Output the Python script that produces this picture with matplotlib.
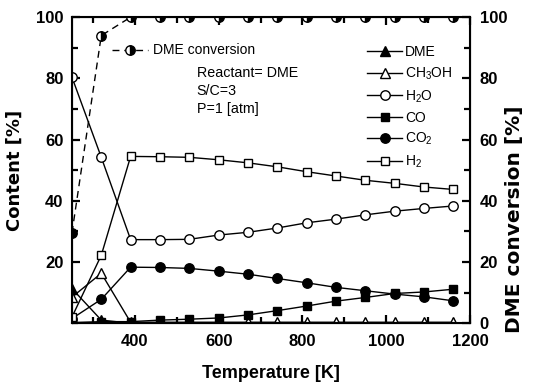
import matplotlib.pyplot as plt
from matplotlib.ticker import MultipleLocator

plt.rcParams['font.family'] = ['Liberation Sans', 'DejaVu Sans']
plt.rcParams['mathtext.fontset'] = 'custom'
plt.rcParams['mathtext.rm'] = 'Liberation Sans'
plt.rcParams['mathtext.it'] = 'Liberation Sans:italic'
plt.rcParams['mathtext.bf'] = 'Liberation Sans:bold'

temp = [250 + 70 * i for i in range(14)]

dme = [11.3, 1.0, 0, 0, 0, 0, 0, 0, 0, 0, 0, 0, 0, 0]
ch3oh = [8.5, 16.3, 0.3, 0.3, 0.3, 0.3, 0.3, 0.3, 0.3, 0.3, 0.3, 0.3, 0.3, 0.3]
h2o = [80.4, 54.2, 27.3, 27.3, 27.4, 28.8, 29.7, 31.1, 32.8, 34.0, 35.4, 36.6, 37.5, 38.3]
co = [0.2, 0.5, 0.5, 1.0, 1.3, 1.7, 2.7, 4.1, 5.6, 7.2, 8.4, 9.7, 10.2, 11.1]
co2 = [1.5, 7.8, 18.3, 18.2, 17.9, 17.0, 16.0, 14.6, 13.2, 11.7, 10.6, 9.5, 8.6, 7.3]
h2 = [2.0, 22.2, 54.5, 54.4, 54.2, 53.4, 52.4, 51.1, 49.5, 48.1, 46.7, 45.7, 44.5, 43.7]
conversion = [29.5, 94, 100, 100, 100, 100, 100, 100, 100, 100, 100, 100, 100, 100]

fig = plt.figure(figsize=(5.33, 3.82), dpi=100)
ax = fig.add_axes([0.135, 0.154, 0.747, 0.801])

ms = 6.8
lw = 1.0
ax.plot(temp, dme, 'k-', marker='^', ms=ms, lw=lw, label='DME')
ax.plot(temp, ch3oh, 'k-', marker='^', ms=ms, lw=lw, mfc='white', label='CH$_3$OH')
ax.plot(temp, h2o, 'k-', marker='o', ms=ms, lw=lw, mfc='white', label='H$_2$O')
ax.plot(temp, co, 'k-', marker='s', ms=ms - 0.7, lw=lw, label='CO')
ax.plot(temp, co2, 'k-', marker='o', ms=ms, lw=lw, label='CO$_2$')
ax.plot(temp, h2, 'k-', marker='s', ms=ms - 0.7, lw=lw, mfc='white', label='H$_2$')

ax.set_xlim(250, 1200)
ax.set_ylim(0, 100)
ax.xaxis.set_major_locator(MultipleLocator(200))
ax.xaxis.set_minor_locator(MultipleLocator(100))
ax.yaxis.set_minor_locator(MultipleLocator(10))
ax.set_yticks([20, 40, 60, 80, 100])
ax.tick_params(which='both', direction='in', top=True, right=False, width=1.6)
ax.tick_params(which='major', length=6, labelsize=12)
ax.tick_params(which='minor', length=4)
ax.tick_params(axis='x', pad=8)
ax.tick_params(axis='y', pad=6)
for lbl in ax.get_xticklabels() + ax.get_yticklabels():
    lbl.set_fontweight('bold')
for s in ax.spines.values():
    s.set_linewidth(1.5)

ax.set_xlabel('Temperature [K]', fontsize=13, fontweight='bold', labelpad=11)
ax.set_ylabel('Content [%]', fontsize=13, fontweight='bold', family='DejaVu Sans')
ax.yaxis.set_label_coords(-0.122, 0.5)

ax.legend(loc='upper right', bbox_to_anchor=(0.98, 0.94), frameon=False,
          fontsize=10, handlelength=2.5, handletextpad=0.2,
          labelspacing=0.45, borderpad=0.2)

ax.text(0.313, 0.84, 'Reactant= DME\nS/C=3\nP=1 [atm]', transform=ax.transAxes,
        fontsize=10.3, va='top', ha='left', linespacing=1.35)

ax2 = ax.twinx()
ax2.plot(temp, conversion, color='k', ls=(0, (5, 3.5)), lw=lw, marker='o', ms=ms,
         fillstyle='right', mfc='black', mfcalt='white', mec='black',
         label='DME conversion')
ax2.set_ylim(0, 100)
ax2.yaxis.set_major_locator(MultipleLocator(20))
ax2.yaxis.set_minor_locator(MultipleLocator(10))
ax2.tick_params(which='both', direction='in', width=1.6, labelsize=12, pad=7)
ax2.tick_params(which='major', length=6)
ax2.tick_params(which='minor', length=4)
for lbl in ax2.get_yticklabels():
    lbl.set_fontweight('bold')
ax2.set_ylabel('DME conversion [%]', fontsize=14.5, fontweight='bold', family='DejaVu Sans')
ax2.yaxis.set_label_coords(1.088, 0.34)
ax2.legend(loc='upper left', bbox_to_anchor=(0.07, 0.955), frameon=False,
           fontsize=10, handlelength=2.6, handletextpad=0.35)

fig.savefig('out.png', dpi=100)
